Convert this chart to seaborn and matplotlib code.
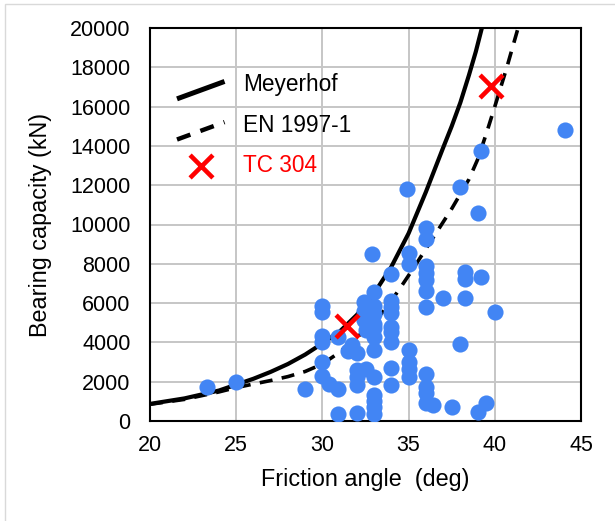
import matplotlib
matplotlib.use("Agg")
import matplotlib.pyplot as plt
import seaborn as sns
import pandas as pd
from matplotlib.lines import Line2D
from matplotlib.legend_handler import HandlerLine2D
from matplotlib.patches import Rectangle

# Measured pile capacities: friction angle (deg) and bearing capacity (kN)
test_phi = [
    23.3, 25.0, 29.0,
    30.0, 30.0, 30.0, 30.0, 30.0, 30.0, 30.4, 30.9, 30.9, 30.9,
    31.5, 31.7, 32.0, 32.0, 32.5, 32.0, 33.0, 32.0, 32.0,
    33.0, 33.0, 33.0, 33.0, 32.9, 33.0, 32.4, 33.0, 32.4, 33.0, 32.4, 33.0,
    32.5, 33.0, 33.0, 33.0,
    34.0, 34.0, 34.0, 34.0, 34.0, 34.0, 34.0, 34.0, 34.0,
    35.0, 35.0, 35.0, 35.0, 35.0, 35.0, 34.9,
    36.0, 36.0, 36.0, 36.0, 36.0, 36.0, 36.0, 36.0, 36.0, 36.0, 36.0, 36.4,
    37.0, 37.5, 38.0, 38.0, 38.3, 38.3, 38.3,
    39.0, 39.0, 39.2, 39.2, 39.5, 40.0, 44.1,
]
test_q = [
    1750, 2000, 1650,
    5850, 5550, 4350, 4000, 3000, 2280, 1880, 1650, 380, 4300,
    3560, 3870, 3480, 2600, 2650, 2220, 2220, 1830, 430,
    1320, 1000, 720, 380, 8500, 6550, 6050, 5850, 5600, 5450, 5150, 4950,
    4650, 4750, 4300, 3620,
    7500, 6100, 5800, 5480, 4780, 4550, 4040, 2700, 1830,
    8550, 8000, 3610, 3000, 2650, 2230, 11800,
    9800, 9250, 7900, 7550, 7200, 6600, 5820, 2400, 1750, 1450, 900, 820,
    6250, 730, 11900, 3900, 7600, 7230, 6270,
    10600, 470, 13750, 7350, 900, 5550, 14800,
]

# Meyerhof prediction
meyerhof_phi = [20, 22, 24, 26, 27, 28, 29, 30, 31, 32, 33, 34, 35, 36, 37, 37.5, 38,
                38.5, 38.9, 39.25]
meyerhof_q = [870, 1150, 1550, 2150, 2500, 2900, 3380, 3950, 4550, 5400, 6500, 7850, 9550,
              11650, 13900, 15000, 16200, 17600, 18800, 20000]

# EN 1997-1 prediction
en_phi = [20, 22, 24, 25, 26, 27, 28, 29, 30, 31, 32, 33, 33.7, 34.5, 35.3, 36.4, 37.5,
          38.5, 39.0, 39.5, 40.0, 40.7, 41.35]
en_q = [850, 1100, 1480, 1700, 1880, 2060, 2260, 2520, 2900, 3500, 4250, 5050, 5750, 6750,
        7800, 9300, 10800, 12300, 13300, 14600, 16000, 18000, 20000]

# TC 304 values
tc_phi = [31.4, 39.8]
tc_q = [4850, 17050]

x_ticks = [20, 25, 30, 35, 40, 45]
y_ticks = list(range(0, 20001, 2000))

sns.set_style("white")
plt.rcParams["font.family"] = ["Liberation Sans", "DejaVu Sans"]
plt.rcParams["text.color"] = "black"
plt.rcParams["axes.labelcolor"] = "black"

fig = plt.figure(figsize=(6.15, 5.21), dpi=100)
ax = fig.add_axes([150 / 615, 1 - 421 / 521, 431 / 615, 393 / 521])

tests = pd.DataFrame({"phi": test_phi, "q": test_q})
mey = pd.DataFrame({"phi": meyerhof_phi, "q": meyerhof_q})
en = pd.DataFrame({"phi": en_phi, "q": en_q})
tc = pd.DataFrame({"phi": tc_phi, "q": tc_q})

sns.lineplot(data=mey, x="phi", y="q", sort=False, estimator=None, color="black",
             linewidth=3.0, ax=ax, zorder=3, label="Meyerhof")
sns.lineplot(data=en, x="phi", y="q", sort=False, estimator=None, color="black",
             linewidth=2.6, ax=ax, zorder=3, label="EN 1997-1")
ax.lines[0].set_solid_capstyle("butt")
ax.lines[0].set_solid_joinstyle("round")
ax.lines[1].set_dashes((3.6, 2.6))
sns.scatterplot(data=tests, x="phi", y="q", color="#4285F4", s=135, linewidth=0,
                ax=ax, zorder=4, legend=False)
sns.scatterplot(data=tc, x="phi", y="q", color="#FF0000", marker="x", s=270,
                linewidth=3.3, ax=ax, zorder=5, label="TC 304")

ax.set_xlim(20, 45)
ax.set_ylim(0, 20000)
ax.set_xticks(x_ticks)
ax.set_yticks(y_ticks)
ax.set_xticklabels([str(v) for v in x_ticks])
ax.set_yticklabels([str(v) for v in y_ticks])
ax.tick_params(axis="both", length=0, labelsize=15.5, colors="black")
ax.tick_params(axis="y", pad=14)
ax.tick_params(axis="x", pad=10)
ax.grid(True, color="#c6c6c6", linewidth=1.4)
ax.set_axisbelow(True)
for sp in ax.spines.values():
    sp.set_color("black")
    sp.set_linewidth(1.5)

ax.set_xlabel("Friction angle  (deg)", fontsize=16.8, labelpad=9)
ax.set_ylabel("Bearing capacity (kN)", fontsize=16.8, labelpad=13)


class SlantedLine(HandlerLine2D):
    """Legend key drawn as a line rising from lower left to upper right."""

    def create_artists(self, legend, orig_handle, xdescent, ydescent,
                       width, height, fontsize, trans):
        line = Line2D([-xdescent, width - xdescent],
                      [-ydescent - 0.45 * height, -ydescent + 0.6 * height])
        self.update_prop(line, orig_handle, legend)
        line.set_transform(trans)
        return [line]


handles, labels = ax.get_legend_handles_labels()
hmap = {handles[0]: SlantedLine(), handles[1]: SlantedLine()}
leg = ax.legend(handles, labels, handler_map=hmap, loc="upper left",
                bbox_to_anchor=(177 / 615, 1 - 73 / 521), bbox_transform=fig.transFigure,
                frameon=False, fontsize=16.3, borderpad=0, borderaxespad=0,
                handlelength=2.1, handleheight=0.75, handletextpad=0.8, labelspacing=0.78)
leg.get_texts()[2].set_color("#FF0000")
leg.legend_handles[0].set_linewidth(3.6)
leg.legend_handles[1].set_linewidth(3.2)
leg.legend_handles[1].set_dashes((3.2, 2.4))

# light chart-area frame
fig.patches.append(Rectangle((4.5 / 615, -0.2), 1.5, 1.2 - 3.5 / 521, transform=fig.transFigure,
                             fill=False, edgecolor="#d9d9d9", linewidth=1.0))

fig.savefig("out.png", dpi=100)
